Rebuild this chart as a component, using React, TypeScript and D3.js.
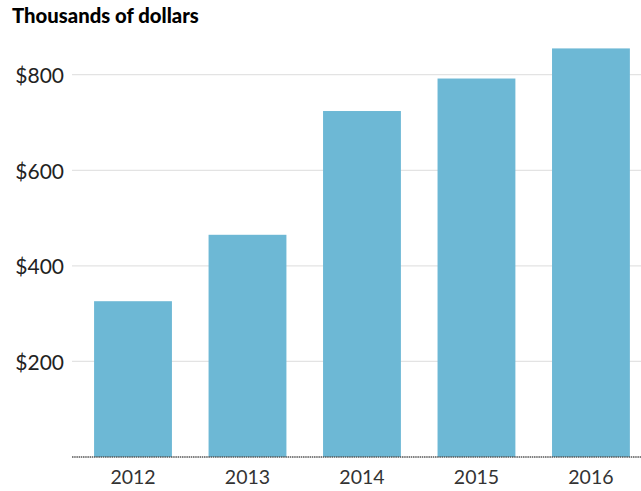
import React, { useEffect, useRef } from "react";
import * as d3 from "d3";

const years = ["2012", "2013", "2014", "2015", "2016"];
const values = [326, 465, 724, 792, 855];
const yTicks = [200, 400, 600, 800];

const App: React.FC = () => {
  const svgRef = useRef<SVGSVGElement>(null);

  useEffect(() => {
    if (!svgRef.current) return;
    const width = 641;
    const height = 491;
    const margin = { top: 28, right: 0, bottom: 34, left: 72 };

    const svg = d3.select(svgRef.current);
    svg.selectAll("*").remove();
    svg.attr("width", width).attr("height", height);

    const font = "Lato, 'Open Sans', sans-serif";

    const x = d3
      .scaleBand()
      .domain(years)
      .range([margin.left, width - margin.right])
      .paddingInner(0.32)
      .paddingOuter(0.145)
      .align(0.665);

    const y = d3
      .scaleLinear()
      .domain([0, 800])
      .range([height - margin.bottom, 74.7]);

    // gridlines
    svg
      .append("g")
      .selectAll("line")
      .data(yTicks)
      .enter()
      .append("line")
      .attr("x1", margin.left)
      .attr("x2", width)
      .attr("y1", d => y(d))
      .attr("y2", d => y(d))
      .attr("stroke", "#e3e3e3")
      .attr("stroke-width", 1.3);

    // y labels
    svg
      .append("g")
      .selectAll("text")
      .data(yTicks)
      .enter()
      .append("text")
      .attr("x", 64)
      .attr("y", d => y(d) + 8.3)
      .attr("text-anchor", "end")
      .style("font-family", font)
      .style("font-size", "21px")
      .attr("fill", "#222")
      .text(d => `$${d}`);

    // bars
    svg
      .append("g")
      .selectAll("rect")
      .data(values)
      .enter()
      .append("rect")
      .attr("x", (_, i) => x(years[i])!)
      .attr("y", d => y(d))
      .attr("width", x.bandwidth())
      .attr("height", d => y(0) - y(d))
      .attr("fill", "#6db8d5");

    // baseline
    svg
      .append("line")
      .attr("x1", margin.left)
      .attr("x2", width)
      .attr("y1", y(0))
      .attr("y2", y(0))
      .attr("stroke", "#555")
      .attr("stroke-width", 1.6)
      .attr("stroke-dasharray", "1.5,0.7");

    // x labels
    svg
      .append("g")
      .selectAll("text")
      .data(years)
      .enter()
      .append("text")
      .attr("x", d => x(d)! + x.bandwidth() / 2)
      .attr("y", 484)
      .attr("text-anchor", "middle")
      .style("font-family", font)
      .style("font-size", "19.5px")
      .attr("fill", "#333")
      .text(d => d);

    // title
    svg
      .append("text")
      .attr("x", 12)
      .attr("y", 23)
      .style("font-family", font)
      .style("font-size", "20.3px")
      .style("font-weight", "900")
      .attr("fill", "#000")
      .text("Thousands of dollars");
  }, []);

  return (
    <svg
      ref={svgRef}
      style={{ position: "absolute", left: 0, top: 0, background: "#fff" }}
    ></svg>
  );
};

export default App;
